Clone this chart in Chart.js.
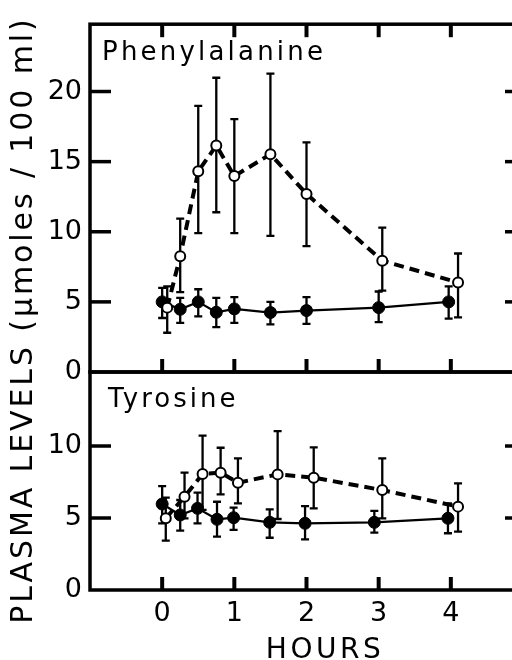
<!DOCTYPE html>
<html>
<head>
<meta charset="utf-8">
<script src="https://cdn.jsdelivr.net/npm/chart.js@4/dist/chart.umd.min.js"></script>
<style>
  html, body { margin: 0; padding: 0; background: #fff; overflow: hidden; }
  #wrap { position: relative; width: 512px; height: 660px; overflow: hidden; background: #fff; }
  canvas { position: absolute; left: 0; top: 0; }
</style>
</head>
<body>
<div id="wrap">
  <canvas id="c1" width="540" height="660"></canvas>
  <canvas id="c2" width="540" height="660"></canvas>
</div>
<script>
// ---------- data ----------
const xTicks = [0, 1, 2, 3, 4];
const yTicksPhe = [0, 5, 10, 15, 20];
const yTicksTyr = [0, 5, 10];

// Phenylalanine panel
const pheFilledX  = [0, 0.25, 0.5, 0.75, 1, 1.5, 2, 3, 3.97];
const pheFilledY  = [5.0, 4.47, 5.0, 4.26, 4.5, 4.24, 4.38, 4.59, 5.0];
const pheFilledHi = [6.0, 5.28, 5.9, 5.28, 5.34, 5.0, 5.34, 5.74, 6.1];
const pheFilledLo = [3.85, 3.5, 3.97, 3.2, 3.5, 3.39, 3.43, 3.55, 3.8];

const pheOpenX  = [0.07, 0.25, 0.5, 0.75, 1, 1.5, 2, 3.05, 4.1];
const pheOpenY  = [4.59, 8.26, 14.31, 16.15, 13.97, 15.53, 12.7, 7.94, 6.38];
const pheOpenHi = [6.1, 10.93, 18.98, 20.98, 18.03, 21.28, 16.38, 10.29, 8.45];
const pheOpenLo = [2.8, 5.69, 9.9, 11.39, 9.9, 9.71, 8.98, 5.8, 3.9];

// Tyrosine panel
const tyrFilledX  = [0, 0.25, 0.49, 0.76, 0.99, 1.49, 1.98, 2.94, 3.96];
const tyrFilledY  = [5.97, 5.21, 5.67, 4.91, 5.02, 4.7, 4.63, 4.7, 4.98];
const tyrFilledHi = [7.22, 6.25, 6.76, 6.13, 5.72, 5.6, 5.83, 5.49, 6.02];
const tyrFilledLo = [4.63, 4.12, 4.63, 3.7, 4.17, 3.63, 3.52, 3.98, 3.94];

const tyrOpenX  = [0.05, 0.31, 0.56, 0.81, 1.05, 1.6, 2.1, 3.05, 4.1];
const tyrOpenY  = [4.98, 6.48, 8.06, 8.15, 7.45, 8.03, 7.8, 6.94, 5.79];
const tyrOpenHi = [6.41, 8.15, 10.72, 9.88, 9.14, 11.04, 9.91, 9.14, 7.41];
const tyrOpenLo = [3.43, 4.98, 5.56, 6.64, 6.02, 4.93, 5.67, 4.98, 4.05];

const titlePhe = 'Phenylalanine';
const titleTyr = 'Tyrosine';
const yTitle = 'PLASMA LEVELS (\u00b5moles / 100 ml)';
const xTitle = 'HOURS';

// ---------- helpers ----------
const FONT = "'DejaVu Sans', sans-serif";
const pts = (xs, ys) => xs.map((x, i) => ({ x, y: ys[i] }));

function filledSet(xs, ys, hi, lo) {
  return {
    data: pts(xs, ys), errHi: hi, errLo: lo,
    showLine: true, borderColor: '#000', borderWidth: 2.2,
    pointRadius: 6, pointBackgroundColor: '#000', pointBorderColor: '#000', pointBorderWidth: 1,
    order: 2
  };
}
function openSet(xs, ys, hi, lo) {
  return {
    data: pts(xs, ys), errHi: hi, errLo: lo,
    showLine: true, borderColor: '#000', borderWidth: 4, borderDash: [10, 6],
    pointRadius: 5, pointBackgroundColor: '#fff', pointBorderColor: '#000', pointBorderWidth: 2,
    order: 1
  };
}

const errorBarPlugin = {
  id: 'errorBars',
  beforeDatasetsDraw(chart) {
    const ctx = chart.ctx;
    const xs = chart.scales.x, ys = chart.scales.y;
    ctx.save();
    ctx.strokeStyle = '#000';
    ctx.lineWidth = 2.3;
    chart.data.datasets.forEach(ds => {
      ds.data.forEach((p, i) => {
        const px = xs.getPixelForValue(p.x);
        const top = ys.getPixelForValue(ds.errHi[i]);
        const bot = ys.getPixelForValue(ds.errLo[i]);
        ctx.beginPath();
        ctx.moveTo(px, top); ctx.lineTo(px, bot);
        ctx.moveTo(px - 4, top); ctx.lineTo(px + 4, top);
        ctx.moveTo(px - 4, bot); ctx.lineTo(px + 4, bot);
        ctx.stroke();
      });
    });
    ctx.restore();
  }
};

const framePlugin = {
  id: 'frame',
  afterDraw(chart, args, opts) {
    const { ctx, chartArea: a } = chart;
    const xs = chart.scales.x, ys = chart.scales.y;
    ctx.save();
    ctx.strokeStyle = '#000';
    ctx.lineCap = 'butt';
    ctx.lineWidth = 3.5;
    ctx.strokeRect(a.left, a.top, a.right - a.left, a.bottom - a.top);
    const seg = (x1, y1, x2, y2) => { ctx.beginPath(); ctx.moveTo(x1, y1); ctx.lineTo(x2, y2); ctx.stroke(); };
    ctx.lineWidth = 4;
    xs.ticks.forEach(t => {
      const px = xs.getPixelForValue(t.value);
      if (opts.topTicks) seg(px, a.top, px, a.top + 13);
      if (opts.bottomTicks) seg(px, a.bottom, px, a.bottom - 13);
    });
    ctx.lineWidth = 3.5;
    ys.ticks.forEach(t => {
      if (t.value === 0) return;
      const py = ys.getPixelForValue(t.value);
      seg(a.left, py, a.left + 21, py);
      seg(a.right, py, a.right - 18, py);
    });
    ctx.restore();
  }
};

const textPlugin = {
  id: 'texts',
  afterDraw(chart, args, opts) {
    const ctx = chart.ctx;
    (opts.items || []).forEach(it => {
      ctx.save();
      ctx.fillStyle = '#000';
      ctx.font = it.font;
      ctx.letterSpacing = it.spacing || '0px';
      ctx.textAlign = it.align || 'left';
      ctx.textBaseline = 'alphabetic';
      ctx.translate(it.x, it.y);
      if (it.rotate) ctx.rotate(it.rotate);
      ctx.fillText(it.text, 0, 0);
      ctx.restore();
    });
  }
};

function yScale(max, ticks) {
  return {
    type: 'linear', min: 0, max: max,
    grid: { display: false, drawTicks: false },
    border: { display: false },
    afterBuildTicks: s => { s.ticks = ticks.map(v => ({ value: v })); },
    afterFit: s => { s.width = 90; },
    ticks: { color: '#000', padding: 8, font: { family: FONT, size: 27 } }
  };
}

Chart.defaults.devicePixelRatio = 1;

// ---------- top chart: Phenylalanine ----------
new Chart(document.getElementById('c1'), {
  type: 'scatter',
  data: { datasets: [
    filledSet(pheFilledX, pheFilledY, pheFilledHi, pheFilledLo),
    openSet(pheOpenX, pheOpenY, pheOpenHi, pheOpenLo)
  ] },
  options: {
    responsive: false, animation: false, devicePixelRatio: 1,
    layout: { padding: { top: 13, bottom: 288, left: 0, right: 17 } },
    plugins: {
      legend: { display: false }, tooltip: { enabled: false },
      frame: { topTicks: true, bottomTicks: true },
      texts: { items: [
        { text: titlePhe, x: 102, y: 60, font: `26px ${FONT}`, spacing: '3.2px' },
        { text: yTitle, x: 32, y: 320, font: `30px ${FONT}`, spacing: '2.9px', align: 'center', rotate: -Math.PI / 2 }
      ] }
    },
    scales: {
      x: {
        type: 'linear', min: -1, max: 5,
        grid: { display: false, drawTicks: false }, border: { display: false },
        afterBuildTicks: s => { s.ticks = xTicks.map(v => ({ value: v })); },
        afterFit: s => { s.height = 0; },
        ticks: { display: false }
      },
      y: yScale(24.8, yTicksPhe)
    }
  },
  plugins: [errorBarPlugin, framePlugin, textPlugin]
});

// ---------- bottom chart: Tyrosine ----------
new Chart(document.getElementById('c2'), {
  type: 'scatter',
  data: { datasets: [
    filledSet(tyrFilledX, tyrFilledY, tyrFilledHi, tyrFilledLo),
    openSet(tyrOpenX, tyrOpenY, tyrOpenHi, tyrOpenLo)
  ] },
  options: {
    responsive: false, animation: false, devicePixelRatio: 1,
    layout: { padding: { top: 372, bottom: 0, left: 0, right: 17 } },
    plugins: {
      legend: { display: false }, tooltip: { enabled: false },
      frame: { topTicks: false, bottomTicks: true },
      texts: { items: [
        { text: titleTyr, x: 108, y: 407, font: `26px ${FONT}`, spacing: '3px' },
        { text: xTitle, x: 325, y: 658, font: `28px ${FONT}`, spacing: '3.5px', align: 'center' }
      ] }
    },
    scales: {
      x: {
        type: 'linear', min: -1, max: 5,
        grid: { display: false, drawTicks: false }, border: { display: false },
        afterBuildTicks: s => { s.ticks = xTicks.map(v => ({ value: v })); },
        afterFit: s => { s.height = 70; },
        ticks: { color: '#000', padding: 8, maxRotation: 0, font: { family: FONT, size: 27 } }
      },
      y: yScale(15.14, yTicksTyr)
    }
  },
  plugins: [errorBarPlugin, framePlugin, textPlugin]
});
</script>
</body>
</html>
